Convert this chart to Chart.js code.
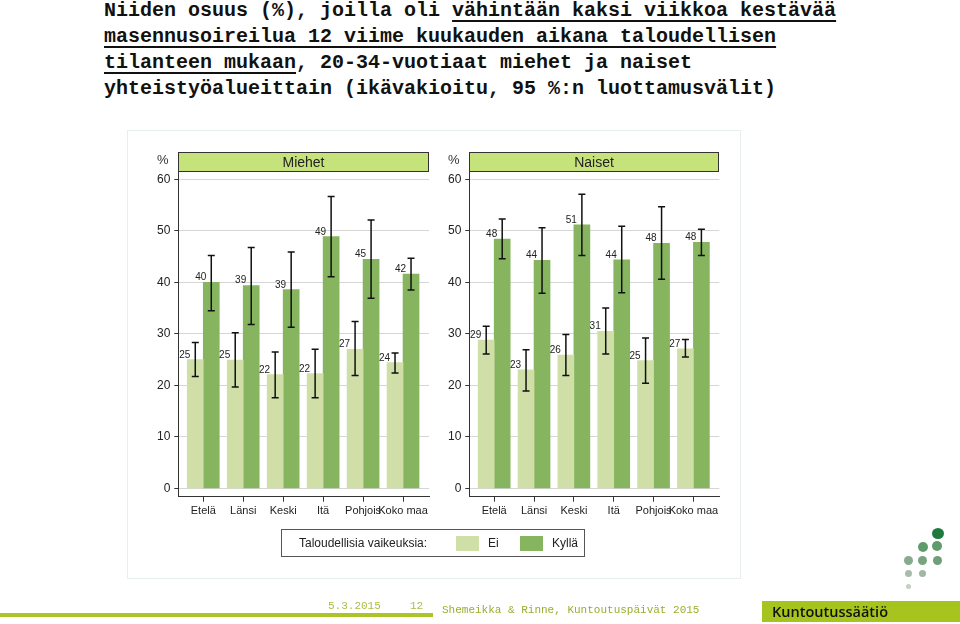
<!DOCTYPE html>
<html>
<head>
<meta charset="utf-8">
<script src="https://cdn.jsdelivr.net/npm/chart.js@4.4.1/dist/chart.umd.min.js"></script>
<style>
  html, body { margin: 0; padding: 0; background: #fff; }
  body { width: 960px; height: 624px; position: relative; overflow: hidden; font-family: "Liberation Sans", Arial, sans-serif; }
  canvas.panel { position: absolute; left: 0; top: 0; }
  .title { position: absolute; left: 104px; top: -2px; font-family: "Liberation Mono", monospace; font-weight: bold; font-size: 20px; line-height: 26px; color: #111; white-space: pre; }
  .title u { text-decoration: underline; text-decoration-thickness: 2px; text-underline-offset: 4px; }
  .frame { position: absolute; left: 127px; top: 130px; width: 612px; height: 447px; border: 1px solid #e8eeee; }
  .strip { position: absolute; top: 152px; height: 18px; border: 1px solid #333; background: #c6e27a; font-size: 14px; line-height: 18px; text-align: center; color: #222; }
  .pct { position: absolute; top: 152px; font-size: 13px; color: #333; }
  .legend { position: absolute; left: 281px; top: 529px; width: 302px; height: 26px; border: 1px solid #555; font-size: 12px; color: #222; }
  .legend span { position: absolute; top: 6px; }
  .legend i { position: absolute; top: 6px; width: 23px; height: 15px; }
  .footbar { position: absolute; left: 0; top: 613px; width: 433px; height: 4px; background: #a9c52a; }
  .foot { position: absolute; font-family: "Liberation Mono", monospace; font-size: 11px; }
  .brand { position: absolute; left: 762px; top: 601px; width: 198px; height: 21px; background: #a6c41e; }
  .brand span { position: absolute; left: 10px; top: 1px; font-family: "Open Sans", sans-serif; font-weight: 600; font-size: 14.5px; color: #111; }
  .dot { position: absolute; border-radius: 50%; }
</style>
</head>
<body>
<div class="title">Niiden osuus (%), joilla oli <u>vähintään kaksi viikkoa kestävää</u>
<u>masennusoireilua 12 viime kuukauden aikana taloudellisen</u>
<u>tilanteen mukaan</u>, 20-34-vuotiaat miehet ja naiset
yhteistyöalueittain (ikävakioitu, 95 %:n luottamusvälit)</div>

<div class="frame"></div>

<canvas id="c1" class="panel" width="960" height="624"></canvas>
<canvas id="c2" class="panel" width="960" height="624"></canvas>

<div class="pct" style="left:157px;">%</div>
<div class="pct" style="left:448px;">%</div>
<div class="strip" style="left:178px; width:249px;">Miehet</div>
<div class="strip" style="left:469px; width:248px;">Naiset</div>

<div class="legend">
  <span style="left:17px;">Taloudellisia vaikeuksia:</span>
  <i style="left:174px; background:#cfdfa7;"></i>
  <span style="left:206px;">Ei</span>
  <i style="left:238px; background:#87b55f;"></i>
  <span style="left:270px;">Kyllä</span>
</div>

<div class="footbar"></div>
<div class="foot" style="left:328px; top:600px; color:#a9c03c;">5.3.2015</div>
<div class="foot" style="left:410px; top:600px; color:#a9c03c;">12</div>
<div class="foot" style="left:442px; top:604px; color:#9aae2c;">Shemeikka &amp; Rinne, Kuntoutuspäivät 2015</div>
<div class="brand"><span>Kuntoutussäätiö</span></div>

<div class="dot" style="left:932px; top:528px; width:12px; height:11px; background:#1f7a3e;"></div>
<div class="dot" style="left:918px; top:542px; width:10px; height:10px; background:#5f9c6c;"></div>
<div class="dot" style="left:932px; top:541px; width:10px; height:10px; background:#5f9c6c;"></div>
<div class="dot" style="left:904px; top:556px; width:9px; height:9px; background:#86ab8e;"></div>
<div class="dot" style="left:918px; top:556px; width:9px; height:9px; background:#76a480;"></div>
<div class="dot" style="left:933px; top:556px; width:9px; height:9px; background:#6da078;"></div>
<div class="dot" style="left:905px; top:570px; width:7px; height:7px; background:#a9bcac;"></div>
<div class="dot" style="left:919px; top:570px; width:7px; height:7px; background:#a1b7a4;"></div>
<div class="dot" style="left:906px; top:584px; width:5px; height:5px; background:#c4d0c6;"></div>

<script>
const categories = ["Etelä", "Länsi", "Keski", "Itä", "Pohjois", "Koko maa"];
const yTicks = [0, 10, 20, 30, 40, 50, 60];

// Miehet
const miehetEi = [25.0, 24.9, 22.1, 22.3, 27.0, 24.4];
const miehetEiLow = [21.7, 19.7, 17.6, 17.6, 21.9, 22.4];
const miehetEiHigh = [28.3, 30.2, 26.5, 27.0, 32.4, 26.3];
const miehetKylla = [40.0, 39.4, 38.6, 48.9, 44.5, 41.6];
const miehetKyllaLow = [34.5, 31.8, 31.3, 41.1, 36.9, 38.5];
const miehetKyllaHigh = [45.2, 46.8, 45.9, 56.7, 52.1, 44.7];

// Naiset
const naisetEi = [28.8, 23.0, 25.9, 30.5, 24.8, 27.1];
const naisetEiLow = [26.1, 18.9, 21.9, 26.1, 20.4, 25.5];
const naisetEiHigh = [31.5, 26.9, 29.9, 35.0, 29.2, 28.9];
const naisetKylla = [48.4, 44.3, 51.2, 44.4, 47.6, 47.8];
const naisetKyllaLow = [44.6, 37.9, 45.2, 38.0, 40.6, 45.2];
const naisetKyllaHigh = [52.3, 50.6, 57.1, 50.9, 54.7, 50.3];

const colorEi = "#cfdfa7";
const colorKylla = "#87b55f";

Chart.defaults.font.family = "'Liberation Sans', Arial, sans-serif";

const errorBars = {
  id: "errorBars",
  afterDatasetsDraw(chart) {
    const ctx = chart.ctx;
    const ys = chart.scales.y;
    ctx.save();
    chart.data.datasets.forEach((ds, di) => {
      const meta = chart.getDatasetMeta(di);
      meta.data.forEach((bar, i) => {
        const x = bar.x;
        const yl = ys.getPixelForValue(ds.low[i]);
        const yh = ys.getPixelForValue(ds.high[i]);
        ctx.strokeStyle = "#111";
        ctx.lineWidth = 1.5;
        ctx.beginPath();
        ctx.moveTo(x, yl); ctx.lineTo(x, yh);
        ctx.moveTo(x - 3.5, yl); ctx.lineTo(x + 3.5, yl);
        ctx.moveTo(x - 3.5, yh); ctx.lineTo(x + 3.5, yh);
        ctx.stroke();
        ctx.fillStyle = "#222";
        ctx.font = "10px 'Liberation Sans', Arial, sans-serif";
        ctx.textAlign = "right";
        ctx.textBaseline = "alphabetic";
        ctx.fillText(String(Math.round(ds.data[i].y)), x - 5, bar.y - 2);
      });
    });
    ctx.restore();
  }
};

function makePanel(id, ei, eiLow, eiHigh, kylla, kyllaLow, kyllaHigh, padLeft, padRight) {
  return new Chart(document.getElementById(id), {
    type: "bar",
    data: {
      datasets: [
        { label: "Ei", data: ei.map((v, i) => ({ x: i, y: v })), low: eiLow, high: eiHigh,
          backgroundColor: colorEi, borderWidth: 0, barThickness: 16 },
        { label: "Kyllä", data: kylla.map((v, i) => ({ x: i, y: v })), low: kyllaLow, high: kyllaHigh,
          backgroundColor: colorKylla, borderWidth: 0, barThickness: 16 }
      ]
    },
    options: {
      responsive: false,
      animation: false,
      devicePixelRatio: 1,
      layout: { padding: { left: padLeft, right: padRight, top: 171.7, bottom: 97.3 } },
      plugins: { legend: { display: false }, tooltip: { enabled: false } },
      scales: {
        x: {
          type: "linear", min: -0.625, max: 5.65, offset: false,
          afterBuildTicks: s => { s.ticks = categories.map((c, i) => ({ value: i })); },
          afterFit: s => { s.height = 30; },
          grid: { offset: false, drawOnChartArea: false, drawTicks: true, tickLength: 5, tickColor: "#333" },
          border: { display: true, color: "#333", width: 1 },
          ticks: { callback: v => categories[v], autoSkip: false, maxRotation: 0, padding: 3,
                   color: "#222", font: { size: 11 } }
        },
        y: {
          type: "linear", min: -1.63, max: 61.5,
          afterBuildTicks: s => { s.ticks = yTicks.map(v => ({ value: v })); },
          afterFit: s => { s.width = 40; },
          grid: { color: "#d6d6d6", tickColor: "#333", tickLength: 4, lineWidth: 1 },
          border: { display: true, color: "#333", width: 1 },
          ticks: { padding: 4, color: "#222", font: { size: 12 } }
        }
      }
    },
    plugins: [errorBars]
  });
}

makePanel("c1", miehetEi, miehetEiLow, miehetEiHigh, miehetKylla, miehetKyllaLow, miehetKyllaHigh, 138.3, 531);
makePanel("c2", naisetEi, naisetEiLow, naisetEiHigh, naisetKylla, naisetKyllaLow, naisetKyllaHigh, 429.3, 240.7);
</script>
</body>
</html>
